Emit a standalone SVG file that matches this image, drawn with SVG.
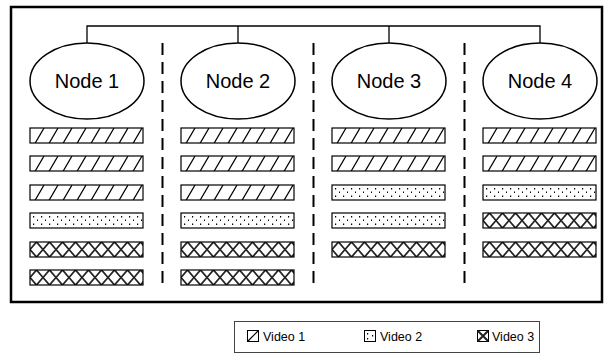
<svg xmlns="http://www.w3.org/2000/svg" width="608" height="363" viewBox="0 0 608 363">
<style>
.node{fill:#fff;stroke:#000;stroke-width:1.5}
.lbl{font-family:"Liberation Sans",Arial,sans-serif;font-size:20px;fill:#000;text-anchor:middle}
.leg{font-family:"Liberation Sans",Arial,sans-serif;font-size:12.5px;fill:#000}
.conn{fill:none;stroke:#000;stroke-width:1.3}
.sep{fill:none;stroke:#000;stroke-width:2;stroke-dasharray:12 7}
.box{stroke:#000;stroke-width:1.2}
</style>
<defs>
<pattern id="v1" patternUnits="userSpaceOnUse" width="14" height="24">
<rect width="14" height="24" fill="#fff"/>
<path d="M0 24L14 0M-14 24L0 0M14 24L28 0" stroke="#000" stroke-width="1.2"/>
</pattern>
<pattern id="v2" patternUnits="userSpaceOnUse" width="8" height="15">
<rect width="8" height="15" fill="#fff"/>
<rect x="3" y="3" width="1.2" height="1.5" fill="#000"/>
<rect x="7" y="6.5" width="1" height="1.5" fill="#000"/>
<rect x="3" y="10.5" width="1.2" height="1.5" fill="#000"/>
</pattern>
<pattern id="v3" patternUnits="userSpaceOnUse" width="13" height="15">
<rect width="13" height="15" fill="#fff"/>
<path d="M0 7.5L6.5 0L13 7.5L6.5 15Z" fill="none" stroke="#222" stroke-width="1.8"/>
</pattern>
<rect id="r1" width="113" height="15" fill="url(#v1)" class="box"/>
<rect id="r2" width="113" height="15" fill="url(#v2)" class="box"/>
<rect id="r3" width="113" height="15" fill="url(#v3)" class="box"/>
</defs>
<rect width="608" height="363" fill="#fff"/>
<rect x="11" y="7" width="591" height="295" fill="none" stroke="#000" stroke-width="2.5"/>
<g id="connectors">
<path class="conn" d="M87 43V26H540V43M238 26V43M389 26V43"/>
<path class="sep" d="M162.5 43V288M313.5 43V288M464.5 43V288"/>
</g>
<g id="node1">
<ellipse class="node" cx="87" cy="81" rx="57" ry="38"/>
<text class="lbl" x="87" y="88">Node 1</text>
<use href="#r1" x="30" y="128"/><use href="#r1" x="30" y="156"/><use href="#r1" x="30" y="185"/>
<use href="#r2" x="30" y="213"/><use href="#r3" x="30" y="242"/><use href="#r3" x="30" y="270"/>
</g>
<g id="node2">
<ellipse class="node" cx="238" cy="81" rx="57" ry="38"/>
<text class="lbl" x="238" y="88">Node 2</text>
<use href="#r1" x="181" y="128"/><use href="#r1" x="181" y="156"/><use href="#r1" x="181" y="185"/>
<use href="#r2" x="181" y="213"/><use href="#r3" x="181" y="242"/><use href="#r3" x="181" y="270"/>
</g>
<g id="node3">
<ellipse class="node" cx="389" cy="81" rx="57" ry="38"/>
<text class="lbl" x="389" y="88">Node 3</text>
<use href="#r1" x="332" y="128"/><use href="#r1" x="332" y="156"/><use href="#r2" x="332" y="185"/>
<use href="#r2" x="332" y="213"/><use href="#r3" x="332" y="242"/>
</g>
<g id="node4">
<ellipse class="node" cx="540" cy="81" rx="57" ry="38"/>
<text class="lbl" x="540" y="88">Node 4</text>
<use href="#r1" x="483" y="128"/><use href="#r1" x="483" y="156"/><use href="#r2" x="483" y="185"/>
<use href="#r3" x="483" y="213"/><use href="#r3" x="483" y="242"/>
</g>
<g id="legend">
<rect x="234.5" y="321.5" width="305" height="31" fill="#fff" stroke="#444" stroke-width="1"/>
<rect x="247.5" y="330.5" width="11" height="11" fill="#fff" stroke="#000"/>
<path d="M248 341L258 331" stroke="#000" stroke-width="1.2"/>
<rect x="364.5" y="330.5" width="11" height="11" fill="#fff" stroke="#000"/>
<rect x="367" y="333" width="1.2" height="1.5"/><rect x="372" y="335" width="1.2" height="1.5"/><rect x="367" y="338" width="1.2" height="1.5"/>
<rect x="477.5" y="330.5" width="11" height="11" fill="#fff" stroke="#000"/>
<path d="M478 331L488 341M488 331L478 341" stroke="#222" stroke-width="2"/>
<text class="leg" x="263" y="341">Video 1</text>
<text class="leg" x="380" y="341">Video 2</text>
<text class="leg" x="492" y="341">Video 3</text>
</g>
</svg>
